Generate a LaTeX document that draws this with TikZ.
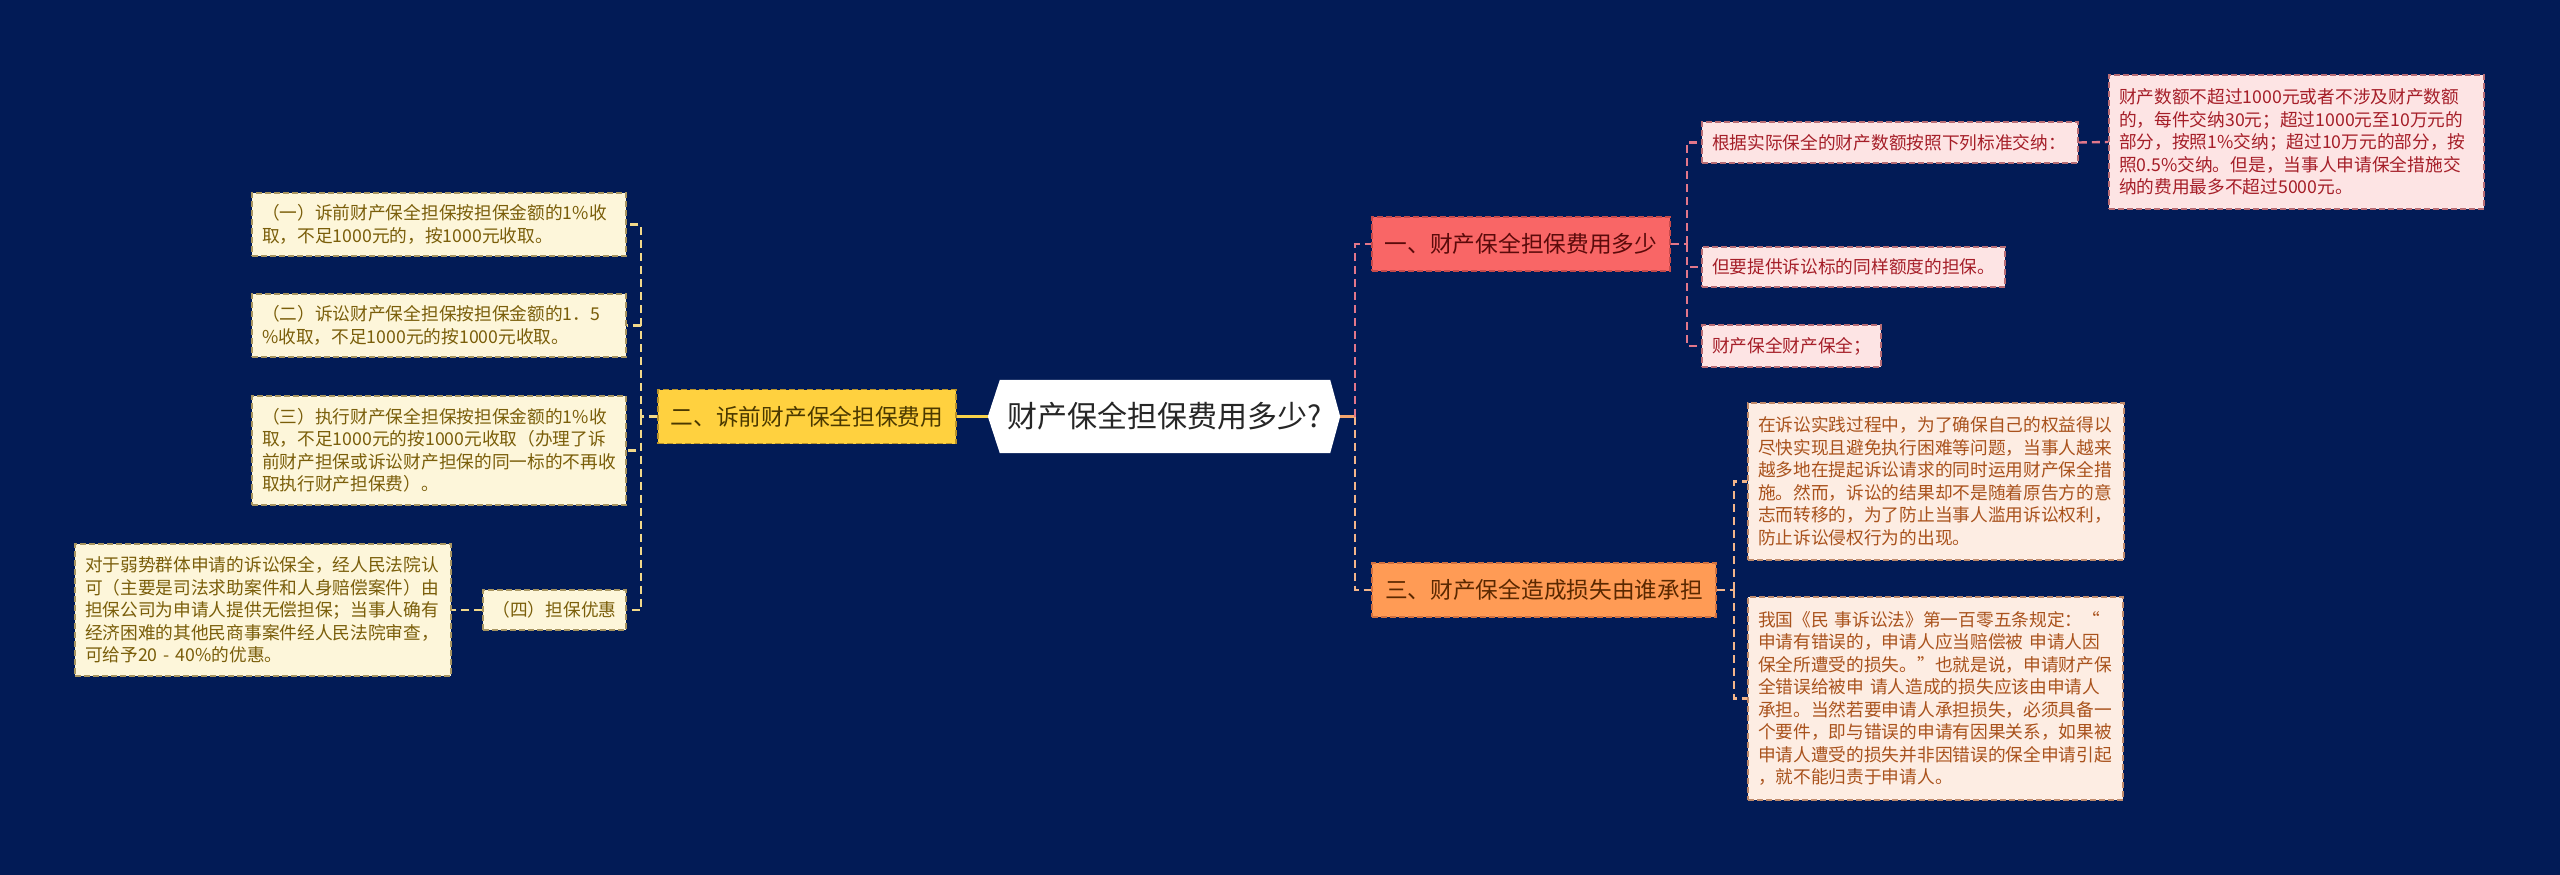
\documentclass[tikz,border=0pt]{standalone}
\usepackage{fontspec}
\setmainfont{Noto Sans CJK SC}
\usetikzlibrary{backgrounds}
\definecolor{bgc}{HTML}{021B56}
\definecolor{lyfill}{HTML}{FDF6DA}
\definecolor{lytext}{HTML}{7A5E0A}
\definecolor{lyborder}{HTML}{A89560}
\definecolor{myfill}{HTML}{FFD13F}
\definecolor{mytext}{HTML}{4A3800}
\definecolor{myborder}{HTML}{B8922A}
\definecolor{ylink}{HTML}{F2D98A}
\definecolor{ysolid}{HTML}{F8D24A}
\definecolor{mrfill}{HTML}{F96666}
\definecolor{mrtext}{HTML}{5A0A0A}
\definecolor{mrborder}{HTML}{C84A4A}
\definecolor{lrfill}{HTML}{FDE4E4}
\definecolor{lrtext}{HTML}{A51E28}
\definecolor{lrborder}{HTML}{B86C74}
\definecolor{rlink}{HTML}{E2778A}
\definecolor{mofill}{HTML}{FF9B55}
\definecolor{motext}{HTML}{5A2800}
\definecolor{moborder}{HTML}{D07040}
\definecolor{lofill}{HTML}{FDEDE3}
\definecolor{lotext}{HTML}{A9521C}
\definecolor{loborder}{HTML}{C08A6A}
\definecolor{olink}{HTML}{F3B58A}
\definecolor{osolid}{HTML}{F4A56E}
\tikzset{
  leafbase/.style={rectangle, draw, dash pattern=on 6pt off 3pt, line width=1.5pt,
    inner xsep=10pt, inner ysep=0pt, align=left,
    font=\fontsize{17.7}{22.5}\selectfont},
  leafY/.style={leafbase, fill=lyfill, text=lytext, draw=lyborder},
  leafR/.style={leafbase, fill=lrfill, text=lrtext, draw=lrborder},
  leafO/.style={leafbase, fill=lofill, text=lotext, draw=loborder},
  mainbase/.style={rectangle, draw, dash pattern=on 6pt off 3pt, line width=1.5pt,
    inner sep=0pt, align=center, minimum height=54pt,
    font=\fontsize{22.7}{27}\selectfont},
  mainY/.style={mainbase, fill=myfill, text=mytext, draw=myborder},
  mainR/.style={mainbase, fill=mrfill, text=mrtext, draw=mrborder},
  mainO/.style={mainbase, fill=mofill, text=motext, draw=moborder},
  rootbox/.style={rectangle, inner sep=0pt, minimum width=330pt, minimum height=73pt,
    text=black!85, font=\fontsize{30}{36}\selectfont},
  linkbase/.style={line width=2.4pt, dash pattern=on 8pt off 5pt},
  linkY/.style={linkbase, draw=ylink},
  linkR/.style={linkbase, draw=rlink},
  linkO/.style={linkbase, draw=olink},
}
\begin{document}
\begin{tikzpicture}[x=1pt,y=-1pt]
\begin{scope}[on background layer]
\fill[bgc] (0,0) rectangle (2560,875);
\end{scope}
\useasboundingbox (0,0) rectangle (2560,875);

% root
\node[rootbox] (root) at (1165,416.5) {财产保全担保费用多少?};
\coordinate (rootL) at ([xshift=-12pt]root.west);
\coordinate (rootR) at ([xshift=10pt]root.east);
\begin{scope}[on background layer]
\fill[white] (root.north west) -- (root.north east) -- (rootR) -- (root.south east)
  -- (root.south west) -- (rootL) -- cycle;
\end{scope}

% main branches
\node[mainY, minimum width=298pt] (n2) at (807,416.5) {二、诉前财产保全担保费用};
\node[mainR, minimum width=298pt] (n1) at (1521,244) {一、财产保全担保费用多少};
\node[mainO, minimum width=344pt] (n3) at (1544,590) {三、财产保全造成损失由谁承担};

% left leaves
\node[leafY, text width=354pt, minimum height=63pt] (a) at (439,224.5)
  {（一）诉前财产保全担保按担保金额的1\%收\\取，不足1000元的，按1000元收取。};
\node[leafY, text width=354pt, minimum height=63pt] (b) at (439,325.5)
  {（二）诉讼财产保全担保按担保金额的1．5\\\%收取，不足1000元的按1000元收取。};
\node[leafY, text width=354pt, minimum height=109pt] (c) at (439,450.5)
  {（三）执行财产保全担保按担保金额的1\%收\\取，不足1000元的按1000元收取（办理了诉\\前财产担保或诉讼财产担保的同一标的不再收\\取执行财产担保费）。};
\node[leafY, align=center, inner xsep=0pt, minimum width=143pt, minimum height=40pt] (d) at (554.5,610)
  {（四）担保优惠};
\node[leafY, text width=356pt, minimum height=132pt] (e) at (263,610)
  {对于弱势群体申请的诉讼保全，经人民法院认\\可（主要是司法求助案件和人身赔偿案件）由\\担保公司为申请人提供无偿担保；当事人确有\\经济困难的其他民商事案件经人民法院审查，\\可给予20~-~40\%的优惠。};

% right top leaves
\node[leafR, text width=356pt, minimum height=41pt] (c1) at (1890,142.5)
  {根据实际保全的财产数额按照下列标准交纳：};
\node[leafR, text width=355pt, minimum height=134pt] (big) at (2296.5,142)
  {财产数额不超过1000元或者不涉及财产数额\\的，每件交纳30元；超过1000元至10万元的\\部分，按照1\%交纳；超过10万元的部分，按\\照0.5\%交纳。但是，当事人申请保全措施交\\纳的费用最多不超过5000元。};
\node[leafR, text width=283pt, minimum height=40pt] (c2) at (1853.5,267)
  {但要提供诉讼标的同样额度的担保。};
\node[leafR, text width=159pt, minimum height=42pt] (c3) at (1791.5,346)
  {财产保全财产保全；};

% right bottom leaves
\node[leafO, text width=356pt, minimum height=157pt] (d1) at (1936,481.5)
  {在诉讼实践过程中，为了确保自己的权益得以\\尽快实现且避免执行困难等问题，当事人越来\\越多地在提起诉讼请求的同时运用财产保全措\\施。然而，诉讼的结果却不是随着原告方的意\\志而转移的，为了防止当事人滥用诉讼权利，\\防止诉讼侵权行为的出现。};
\node[leafO, text width=355pt, minimum height=203pt] (d2) at (1935.5,698.5)
  {我国《民~事诉讼法》第一百零五条规定：“\\申请有错误的，申请人应当赔偿被~申请人因\\保全所遭受的损失。”也就是说，申请财产保\\全错误给被申~请人造成的损失应该由申请人\\承担。当然若要申请人承担损失，必须具备一\\个要件，即与错误的申请有因果关系，如果被\\申请人遭受的损失并非因错误的保全申请引起\\，就不能归责于申请人。};

% connectors
\draw[ysolid, line width=2.5pt] (rootL) -- (n2.east);
\coordinate (rj) at ([xshift=15pt]rootR);
\draw[osolid, line width=2.5pt] (rootR) -- (rj);
\draw[linkR] (rj) |- (n1.west);
\draw[linkO] (rj) |- (n3.west);

\coordinate (lj) at ([xshift=-16pt]n2.west);
\draw[linkY] (n2.west) -- (lj);
\draw[linkY] (lj) |- (a.east);
\draw[linkY] (lj) |- (b.east);
\draw[linkY] (lj) |- (c.east);
\draw[linkY] (lj) |- (d.east);
\draw[linkY] (d.west) -- (e.east);

\coordinate (r1j) at ([xshift=16pt]n1.east);
\draw[linkR] (n1.east) -- (r1j);
\draw[linkR] (r1j) |- (c1.west);
\draw[linkR] (r1j) |- (c2.west);
\draw[linkR] (r1j) |- (c3.west);
\draw[linkR] (c1.east) -- (big.west);

\coordinate (r3j) at ([xshift=17pt]n3.east);
\draw[linkO] (n3.east) -- (r3j);
\draw[linkO] (r3j) |- (d1.west);
\draw[linkO] (r3j) |- (d2.west);
\end{tikzpicture}
\end{document}
